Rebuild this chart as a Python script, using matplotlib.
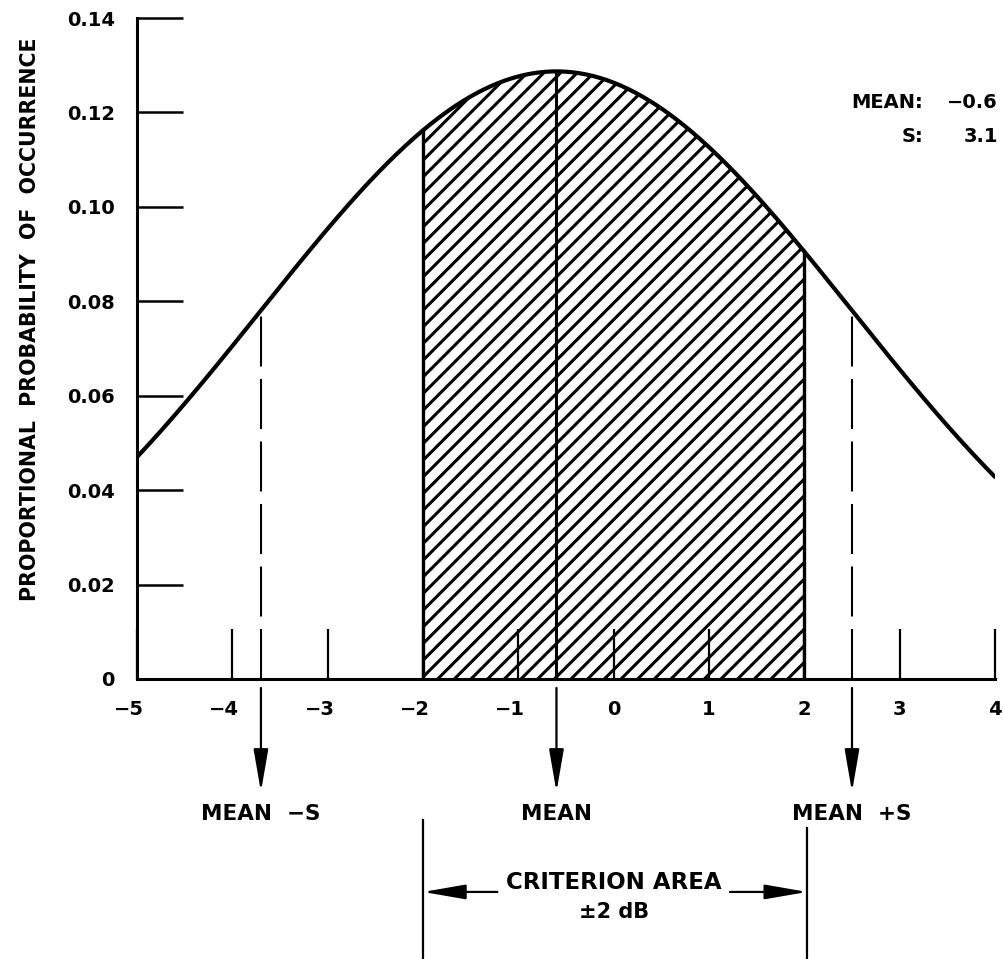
import numpy as np
import matplotlib
matplotlib.use("Agg")
import matplotlib.pyplot as plt
from matplotlib.transforms import ScaledTranslation

# distribution parameters printed on the chart
MEAN = -0.6
S = 3.1
CRIT = 2.0  # criterion area is +/- 2 dB

x_ticks = [-5, -4, -3, -2, -1, 0, 1, 2, 3, 4]
x_tick_labels = ["\u22125", "\u22124", "\u22123", "\u22122", "\u22121", "0", "1", "2", "3", "4"]
y_ticks = [0, 0.02, 0.04, 0.06, 0.08, 0.10, 0.12, 0.14]
y_tick_labels = ["0", "0.02", "0.04", "0.06", "0.08", "0.10", "0.12", "0.14"]


def density(x):
    return np.exp(-(x - MEAN) ** 2 / (2 * S ** 2)) / (S * np.sqrt(2 * np.pi))


plt.rcParams["font.family"] = "DejaVu Sans"
plt.rcParams["font.weight"] = "bold"
plt.rcParams["hatch.linewidth"] = 2.2

fig = plt.figure(figsize=(10.04, 9.59), dpi=100)
ax = fig.add_axes([137 / 1004, 1 - 679 / 959, 858 / 1004, 661 / 959])

xs = np.linspace(-5, 4, 500)
ax.plot(xs, density(xs), color="black", lw=3, solid_capstyle="round", zorder=4)

# shaded criterion area
xc = np.linspace(-CRIT, CRIT, 300)
ax.fill_between(xc, density(xc), 0, facecolor="white", edgecolor="black",
                hatch="//", linewidth=0, zorder=1)
for xe in (-CRIT, CRIT):
    ax.plot([xe, xe], [0, density(xe)], color="black", lw=2.4, zorder=3)

# mean and mean +/- S markers
ax.plot([MEAN, MEAN], [0, density(MEAN)], color="black", lw=2.2, zorder=3)
for xs_ in (MEAN - S, MEAN + S):
    ax.plot([xs_, xs_], [0, density(xs_)], color="black", lw=1.5,
            dashes=(24, 6), zorder=3)

ax.set_xlim(-5, 4)
ax.set_ylim(0, 0.14)
ax.spines["top"].set_visible(False)
ax.spines["right"].set_visible(False)
ax.spines["left"].set_linewidth(2.2)
ax.spines["bottom"].set_linewidth(2.2)

ax.set_xticks(x_ticks)
ax.set_xticklabels(x_tick_labels, fontsize=14, fontweight="bold")
ax.set_yticks(y_ticks)
ax.set_yticklabels(y_tick_labels, fontsize=14, fontweight="bold")
ax.tick_params(axis="x", direction="in", length=36, width=1.6, pad=15)
ax.tick_params(axis="y", direction="in", length=33, width=1.8, pad=16)

# keep the digit of negative labels centred on its tick
shift = ScaledTranslation(-8 / 100, 0, fig.dpi_scale_trans)
for lab, v in zip(ax.get_xticklabels(), x_ticks):
    if v < 0:
        lab.set_transform(lab.get_transform() + shift)

fig.text(30 / 1004, 1 - 319 / 959,
         "PROPORTIONAL  PROBABILITY  OF  OCCURRENCE",
         rotation=90, ha="center", va="center", fontsize=14.8, fontweight="bold")

# parameter box
ax.text(3.245, 0.1220, "MEAN:", ha="right", va="center", fontsize=14)
ax.text(4.03, 0.1220, "\u22120.6", ha="right", va="center", fontsize=14, clip_on=False)
ax.text(3.245, 0.1148, "S:", ha="right", va="center", fontsize=14)
ax.text(4.03, 0.1148, "3.1", ha="right", va="center", fontsize=14, clip_on=False)

# arrows under the axis
arrow_kw = dict(arrowstyle="-|>,head_length=2.6,head_width=0.45",
                color="black", lw=1.6, mutation_scale=10, shrinkA=0, shrinkB=0)
marks = [(MEAN - S, "MEAN  \u2212S"), (MEAN, "MEAN"), (MEAN + S, "MEAN  +S")]
for xm, txt in marks:
    ax.annotate("", xy=(xm, -0.0239), xytext=(xm, -0.0019),
                arrowprops=arrow_kw, annotation_clip=False)
    ax.text(xm, -0.0299, txt, ha="center", va="baseline", fontsize=15.5,
            clip_on=False)

# criterion bracket
ax.plot([-CRIT, -CRIT], [-0.0299, -0.062], color="black", lw=1.6, clip_on=False)
ax.plot([CRIT + 0.03, CRIT + 0.03], [-0.0316, -0.062], color="black", lw=1.6,
        clip_on=False)
ax.annotate("", xy=(-CRIT, -0.0451), xytext=(-1.22, -0.0451),
            arrowprops=arrow_kw, annotation_clip=False)
ax.annotate("", xy=(CRIT + 0.03, -0.0451), xytext=(1.22, -0.0451),
            arrowprops=arrow_kw, annotation_clip=False)
ax.text(0, -0.0445, "CRITERION AREA", ha="center", va="baseline",
        fontsize=16.5, clip_on=False)
ax.text(0, -0.0506, "\u00b12 dB", ha="center", va="baseline",
        fontsize=15, clip_on=False)

fig.savefig("out.png", dpi=100)
